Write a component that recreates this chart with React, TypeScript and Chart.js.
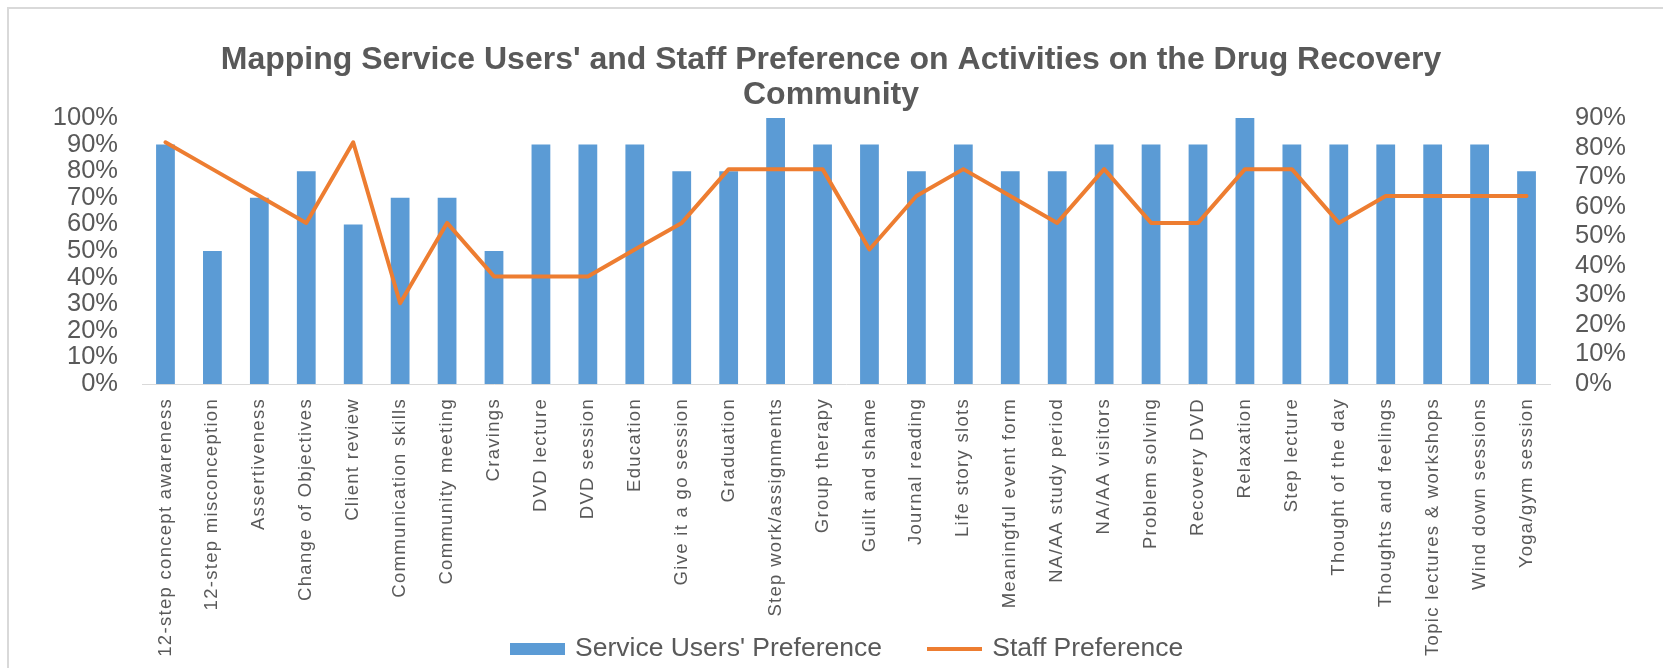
import React, { useEffect, useRef } from 'react';
import { Chart, registerables } from 'chart.js';

Chart.register(...registerables);

const categories = [
  '12-step concept awareness',
  '12-step misconception',
  'Assertiveness',
  'Change of Objectives',
  'Client review',
  'Communication skills',
  'Community meeting',
  'Cravings',
  'DVD lecture',
  'DVD session',
  'Education',
  'Give it a go session',
  'Graduation',
  'Step work/assignments',
  'Group therapy',
  'Guilt and shame',
  'Journal reading',
  'Life story slots',
  'Meaningful event form',
  'NA/AA study period',
  'NA/AA visitors',
  'Problem solving',
  'Recovery DVD',
  'Relaxation',
  'Step lecture',
  'Thought of the day',
  'Thoughts and feelings',
  'Topic lectures & workshops',
  'Wind down sessions',
  'Yoga/gym session',
];

const serviceUsersPreference = [
  90, 50, 70, 80, 60, 70, 70, 50, 90, 90, 90, 80, 80, 100, 90,
  90, 80, 90, 80, 80, 90, 90, 90, 100, 90, 90, 90, 90, 90, 80,
];

const staffPreference = [
  81.8, 72.7, 63.6, 54.5, 81.8, 27.3, 54.5, 36.4, 36.4, 36.4, 45.5, 54.5, 72.7, 72.7, 72.7,
  45.5, 63.6, 72.7, 63.6, 54.5, 72.7, 54.5, 54.5, 72.7, 72.7, 54.5, 63.6, 63.6, 63.6, 63.6,
];

const titleLines = [
  "Mapping Service Users' and Staff Preference on Activities on the Drug Recovery",
  'Community',
];
const seriesNames = ["Service Users' Preference", 'Staff Preference'];
const leftAxisMax = 100;
const rightAxisMax = 90;
const tickStep = 10;

const BAR_COLOR = '#5B9BD5';
const LINE_COLOR = '#ED7D31';
const TEXT_COLOR = '#595959';
const FONT = "'Liberation Sans', Arial, sans-serif";

function makeMark(w: number, h: number, color: string): HTMLCanvasElement {
  const c = document.createElement('canvas');
  c.width = w;
  c.height = h;
  const g = c.getContext('2d')!;
  g.fillStyle = color;
  g.fillRect(0, 0, w, h);
  return c;
}

export default function App() {
  const ref = useRef<HTMLCanvasElement>(null);

  useEffect(() => {
    const canvas = ref.current;
    if (!canvas) return;
    const blueMark = makeMark(55, 12, BAR_COLOR);
    const orangeMark = makeMark(55, 4, LINE_COLOR);

    const tweak = {
      id: 'tweak',
      afterLayout(chart: any) {
        const lg = chart.legend;
        if (lg) {
          lg.left += 17.5;
          lg.right += 17.5;
        }
      },
      beforeDraw(chart: any) {
        const xs = chart.scales.x;
        if (xs && !xs.__patched) {
          xs.__patched = true;
          xs._computeLabelArea = () => undefined;
          const orig = xs.drawLabels;
          xs.drawLabels = function (ca: any) {
            const c = this.ctx;
            c.save();
            c.letterSpacing = '1.3px';
            orig.call(this, ca);
            c.restore();
          };
        }
      },
    };

    const chart = new Chart(canvas, {
      type: 'bar',
      data: {
        labels: categories,
        datasets: [
          {
            type: 'bar',
            label: seriesNames[0],
            data: serviceUsersPreference,
            backgroundColor: BAR_COLOR,
            borderWidth: 0,
            yAxisID: 'y',
            order: 1,
            barPercentage: 0.4,
            categoryPercentage: 1,
          } as any,
          {
            type: 'line',
            label: seriesNames[1],
            data: staffPreference,
            borderColor: LINE_COLOR,
            backgroundColor: LINE_COLOR,
            borderWidth: 4,
            pointRadius: 0,
            pointHoverRadius: 0,
            tension: 0,
            yAxisID: 'y1',
            order: 0,
            borderJoinStyle: 'round',
            borderCapStyle: 'round',
          } as any,
        ],
      },
      options: {
        responsive: true,
        maintainAspectRatio: false,
        animation: false,
        devicePixelRatio: 1,
        layout: { padding: { left: 27, right: 37, top: 0, bottom: 16.75 } },
        plugins: {
          title: {
            display: true,
            text: titleLines,
            color: TEXT_COLOR,
            font: { family: FONT, size: 32, weight: 'bold', lineHeight: 1.09375 },
            padding: { top: 34, bottom: 5 },
          },
          legend: {
            position: 'bottom',
            labels: {
              usePointStyle: true,
              pointStyleWidth: 48,
              boxHeight: 12,
              padding: 49,
              color: TEXT_COLOR,
              font: { family: FONT, size: 26.5 },
              generateLabels: (ch: any) => {
                const items = (Chart.defaults.plugins.legend.labels as any).generateLabels(ch);
                items.sort((a: any, b: any) => a.datasetIndex - b.datasetIndex);
                items.forEach((it: any) => {
                  it.pointStyle = it.datasetIndex === 0 ? blueMark : orangeMark;
                });
                return items;
              },
            },
          },
          tooltip: { enabled: false },
        },
        scales: {
          x: {
            grid: { display: false, drawTicks: false },
            border: { display: true, color: '#D9D9D9', width: 1 },
            ticks: {
              autoSkip: false,
              maxRotation: 90,
              minRotation: 90,
              padding: 14,
              color: TEXT_COLOR,
              font: { family: FONT, size: 18.5 },
            },
            afterFit: (s: any) => {
              s.height = 202.75;
            },
          },
          y: {
            position: 'left',
            min: 0,
            max: leftAxisMax,
            grid: { display: false, drawTicks: false },
            border: { display: false },
            ticks: {
              autoSkip: false,
              stepSize: tickStep,
              padding: 24,
              color: TEXT_COLOR,
              font: { family: FONT, size: 25.5 },
              callback: (v: any) => v + '%',
            },
            afterFit: (s: any) => {
              s.width = 106;
            },
          },
          y1: {
            position: 'right',
            min: 0,
            max: rightAxisMax,
            grid: { display: false, drawTicks: false },
            border: { display: false },
            ticks: {
              autoSkip: false,
              stepSize: tickStep,
              padding: 25,
              color: TEXT_COLOR,
              font: { family: FONT, size: 25.5 },
              callback: (v: any) => v + '%',
            },
            afterFit: (s: any) => {
              s.width = 76;
            },
          },
        },
      } as any,
      plugins: [tweak as any],
    });

    return () => chart.destroy();
  }, []);

  return (
    <div
      style={{
        position: 'fixed',
        left: 7,
        top: 7,
        width: 1654,
        height: 680,
        borderTop: '2px solid #D9D9D9',
        borderLeft: '2px solid #D9D9D9',
        background: '#fff',
      }}
    >
      <div style={{ position: 'relative', width: 1654, height: 680 }}>
        <canvas ref={ref} />
      </div>
    </div>
  );
}
